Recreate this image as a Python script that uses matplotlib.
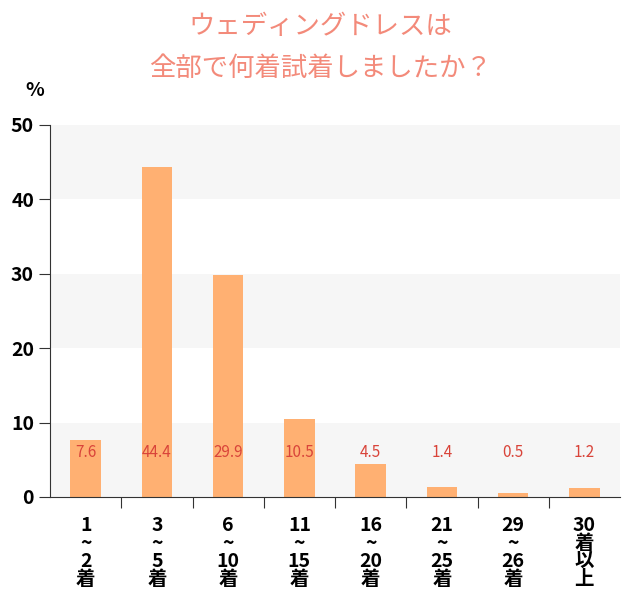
import matplotlib
matplotlib.use("Agg")
import matplotlib.pyplot as plt

plt.rcParams["font.family"] = "Noto Sans CJK JP"

categories = ["1\n~\n2\n着", "3\n~\n5\n着", "6\n~\n10\n着", "11\n~\n15\n着",
              "16\n~\n20\n着", "21\n~\n25\n着", "29\n~\n26\n着", "30\n着\n以\n上"]
values = [7.6, 44.4, 29.9, 10.5, 4.5, 1.4, 0.5, 1.2]
yticks = [0, 10, 20, 30, 40, 50]

fig = plt.figure(figsize=(6.4, 6.1), dpi=100)
ax = fig.add_axes([50/640, 1-497/610, 570/640, 372/610])
for lo in (0, 20, 40):
    ax.axhspan(lo, lo+10, color="#f6f6f6", zorder=0, lw=0)
x = range(len(values))
ax.bar(x, values, width=0.43, color="#ffb072", zorder=2)
for i, v in enumerate(values):
    ax.text(i, 6, f"{v}", ha="center", va="center", color="#d9443a", fontsize=11, zorder=3)
ax.set_xlim(-0.5, 7.5)
ax.set_ylim(0, 50)
ax.set_yticks(yticks)
ax.set_yticklabels([str(t) for t in yticks], fontsize=14, fontweight="bold")
ax.set_xticks([i + 0.5 for i in range(7)], minor=False)
ax.set_xticklabels([])
ax.tick_params(axis="x", length=8, direction="out", color="#333333")
ax.tick_params(axis="y", length=8, direction="out", color="#333333")
for i, c in enumerate(categories):
    ax.text(i, -2.5, c, ha="center", va="top", fontsize=14, fontweight="bold",
            linespacing=0.95)
for s in ("top", "right"):
    ax.spines[s].set_visible(False)
ax.spines["left"].set_color("#333333")
ax.spines["bottom"].set_color("#333333")
fig.text(35/640, 1-90/610, "%", ha="center", va="center", fontsize=14, fontweight="bold")
fig.text(320/640, 1-27/610, "ウェディングドレスは", ha="center", va="center", fontsize=19, color="#f38a7a")
fig.text(320/640, 1-68/610, "全部で何着試着しましたか？", ha="center", va="center", fontsize=19, color="#f38a7a")
fig.savefig("out.png")
